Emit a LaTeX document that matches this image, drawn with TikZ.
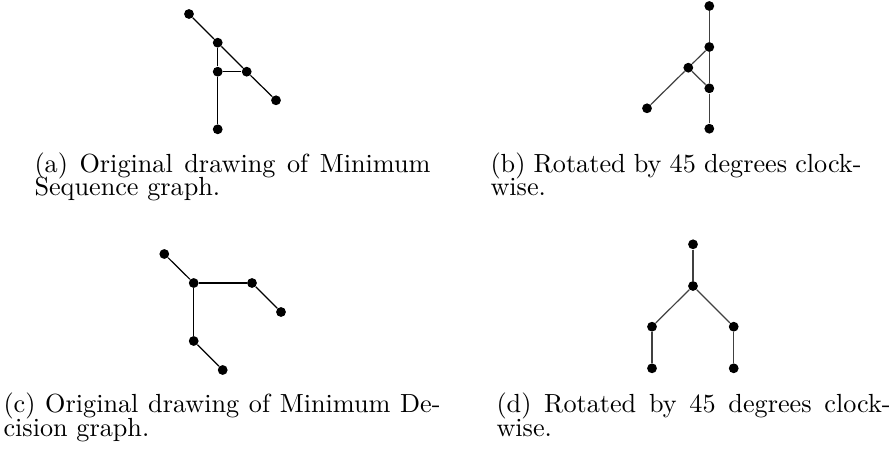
\documentclass[tikz,border=0pt]{standalone}
\begin{document}
\begin{tikzpicture}[x=0.5pt,y=-0.5pt,
  dot/.style={circle,fill=black,inner sep=0pt,minimum size=4.9pt},
  edge/.style={line width=0.6pt,black},
  redge/.style={line width=0.6pt,black!75},
  captxt/.style={anchor=base west,inner sep=0pt,scale=1.31,font=\fontsize{10}{12}\selectfont}]
\useasboundingbox (0,0) rectangle (892,454);
% (a)
\node[dot] (a1) at (189,14) {};
\node[dot] (a2) at (217.7,42.7) {};
\node[dot] (a3) at (217.7,71.7) {};
\node[dot] (a4) at (246.7,71.7) {};
\node[dot] (a5) at (276,100.3) {};
\node[dot] (a6) at (217.7,129.3) {};
\draw[edge] (a1) -- (a2);
\draw[edge] (a2) -- (a4);
\draw[edge] (a4) -- (a5);
\draw[edge] (a2) -- (a3);
\draw[edge] (a3) -- (a4);
\draw[edge] (a3) -- (a6);
% (b)
\node[dot] (b1) at (709.3,6) {};
\node[dot] (b2) at (709.3,47) {};
\node[dot] (b3) at (688.3,67.7) {};
\node[dot] (b4) at (709.3,88.3) {};
\node[dot] (b5) at (647,108.3) {};
\node[dot] (b6) at (709.3,128.7) {};
\draw[redge] (b1) -- (b2);
\draw[redge] (b2) -- (b4);
\draw[redge] (b4) -- (b6);
\draw[redge] (b2) -- (b3);
\draw[redge] (b3) -- (b4);
\draw[redge] (b3) -- (b5);
% (c)
\node[dot] (c1) at (164.3,254) {};
\node[dot] (c2) at (193.7,283) {};
\node[dot] (c3) at (252,283) {};
\node[dot] (c4) at (281,312) {};
\node[dot] (c5) at (193.7,341) {};
\node[dot] (c6) at (222.7,370) {};
\draw[edge] (c1) -- (c2);
\draw[edge] (c2) -- (c3);
\draw[edge] (c3) -- (c4);
\draw[edge] (c2) -- (c5);
\draw[edge] (c5) -- (c6);
% (d)
\node[dot] (d1) at (693,244.3) {};
\node[dot] (d2) at (693,286) {};
\node[dot] (d3) at (652,326.7) {};
\node[dot] (d4) at (733.7,326.7) {};
\node[dot] (d5) at (652,368.3) {};
\node[dot] (d6) at (733.7,368.3) {};
\draw[redge] (d1) -- (d2);
\draw[redge] (d2) -- (d3);
\draw[redge] (d2) -- (d4);
\draw[redge] (d3) -- (d5);
\draw[redge] (d4) -- (d6);
% captions
\node[captxt] (capa1) at (34,172) {\makebox[151.1pt][s]{(a) Original drawing of Minimum}};
\node[captxt] (capa2) at (34,196) {Sequence graph.};
\node[captxt] (capb1) at (490,172) {\makebox[141.6pt][s]{(b) Rotated by 45 degrees clock-}};
\node[captxt] (capb2) at (490,196) {wise.};
\node[captxt] (capc1) at (3,412) {\makebox[166.8pt][s]{(c) Original drawing of Minimum De-}};
\node[captxt] (capc2) at (3,436) {cision graph.};
\node[captxt] (capd1) at (496,412) {\makebox[150.4pt][s]{(d) Rotated by 45 degrees clock-}};
\node[captxt] (capd2) at (496,436) {wise.};
\end{tikzpicture}
\end{document}
